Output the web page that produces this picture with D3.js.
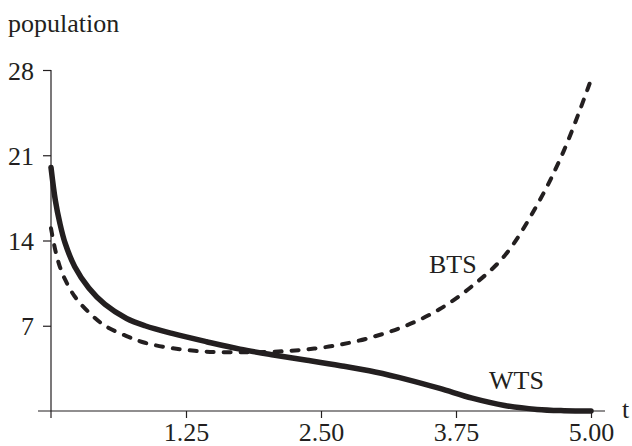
<!DOCTYPE html>
<html>
<head>
<meta charset="utf-8">
<script src="https://cdn.jsdelivr.net/npm/d3@7"></script>
<style>
  html, body { margin: 0; padding: 0; background: #fff; }
  svg { display: block; }
</style>
</head>
<body>
<svg id="chart" width="632" height="446"></svg>
<script>
// ---- data ----
const tValues = [0, 0.04, 0.08, 0.13, 0.22, 0.35, 0.5, 0.7, 0.87, 1.13, 1.44, 1.75, 2.06, 2.37, 2.68, 3.0, 3.3, 3.6, 3.9, 4.2, 4.5, 4.75, 5.0];
const wtsValues = [20.0, 17.3, 15.5, 13.8, 11.85, 10.1, 8.75, 7.6, 7.0, 6.35, 5.69, 5.08, 4.6, 4.17, 3.72, 3.2, 2.58, 1.85, 1.05, 0.45, 0.13, 0.03, 0.0];
const btsValues = [15.0, 13.2, 11.9, 10.8, 9.4, 8.1, 7.0, 6.15, 5.6, 5.15, 4.87, 4.82, 4.87, 5.06, 5.45, 6.13, 7.05, 8.37, 10.26, 12.75, 16.9, 21.4, 27.2];
const xTicks = [1.25, 2.5, 3.75, 5.0];
const xTickLabels = ["1.25", "2.50", "3.75", "5.00"];
const yTicks = [7, 14, 21, 28];
const yTickLabels = ["7", "14", "21", "28"];
const seriesLabels = ["BTS", "WTS"];
const yTitle = "population";
const xTitle = "t";

// ---- layout ----
const svg = d3.select("#chart");
const ink = "#231f20";
const serif = "'Liberation Serif'";
const x = d3.scaleLinear().domain([0, 5]).range([51, 591]);
const y = d3.scaleLinear().domain([0, 28]).range([411, 70]);
const fs = 26;
const styleText = (sel) => sel.style("font-family", serif).style("font-size", fs + "px").attr("fill", ink);

// axes lines
svg.append("line").attr("x1", 38).attr("x2", 605).attr("y1", y(0)).attr("y2", y(0))
  .attr("stroke", ink).attr("stroke-width", 1.2);
svg.append("line").attr("x1", x(0)).attr("x2", x(0)).attr("y1", y(28)).attr("y2", y(0) + 7)
  .attr("stroke", ink).attr("stroke-width", 1.2);

// x axis via d3
const xAxis = d3.axisBottom(x).tickValues(xTicks).tickSize(7).tickSizeOuter(0)
  .tickFormat((d, i) => xTickLabels[i]);
const gx = svg.append("g").attr("transform", `translate(0,${y(0)})`).call(xAxis);
gx.select(".domain").remove();
gx.selectAll(".tick line").attr("stroke", ink).attr("stroke-width", 1.2);
gx.selectAll(".tick text").call(styleText).attr("dy", null).attr("y", 30);

// y axis via d3
const yAxis = d3.axisLeft(y).tickValues(yTicks).tickSize(8).tickSizeOuter(0)
  .tickFormat((d, i) => yTickLabels[i]);
const gy = svg.append("g").attr("transform", `translate(${x(0)},0)`).call(yAxis);
gy.select(".domain").remove();
gy.selectAll(".tick line").attr("stroke", ink).attr("stroke-width", 1.2);
gy.selectAll(".tick text").call(styleText).attr("dy", null).attr("x", -17).attr("y", 9);

// titles
svg.append("text").attr("x", 8).attr("y", 32).text(yTitle).call(styleText);
svg.append("text").attr("x", 622).attr("y", 418).text(xTitle).call(styleText);

// curves
const lineGen = (vals) => d3.line()
  .x((d, i) => x(tValues[i]))
  .y((d) => y(d))
  .curve(d3.curveCatmullRom.alpha(0.5))(vals);

svg.append("path").attr("d", lineGen(btsValues))
  .attr("fill", "none").attr("stroke", ink).attr("stroke-width", 4)
  .attr("stroke-dasharray", "7,10").attr("stroke-linecap", "round");

svg.append("path").attr("d", lineGen(wtsValues))
  .attr("fill", "none").attr("stroke", ink).attr("stroke-width", 5.5)
  .attr("stroke-linecap", "round");

// series labels
svg.append("text").attr("x", 429).attr("y", 273).text(seriesLabels[0]).call(styleText);
svg.append("text").attr("x", 489).attr("y", 389).text(seriesLabels[1]).call(styleText);
</script>
</body>
</html>
